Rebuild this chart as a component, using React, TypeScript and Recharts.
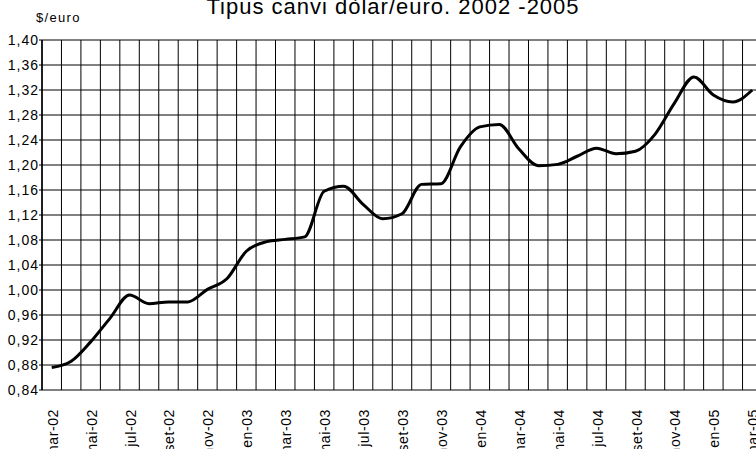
import { LineChart, Line, XAxis, YAxis, CartesianGrid } from 'recharts';

const months = [
  'mar-02', 'abr-02', 'mai-02', 'jun-02', 'jul-02', 'ago-02', 'set-02', 'oct-02', 'nov-02', 'des-02',
  'gen-03', 'feb-03', 'mar-03', 'abr-03', 'mai-03', 'jun-03', 'jul-03', 'ago-03', 'set-03', 'oct-03', 'nov-03', 'des-03',
  'gen-04', 'feb-04', 'mar-04', 'abr-04', 'mai-04', 'jun-04', 'jul-04', 'ago-04', 'set-04', 'oct-04', 'nov-04', 'des-04',
  'gen-05', 'feb-05', 'mar-05',
];

const rate = [
  0.876, 0.886, 0.917, 0.955, 0.992, 0.978, 0.981, 0.981, 1.001, 1.018,
  1.062, 1.077, 1.081, 1.085, 1.158, 1.166, 1.137, 1.114, 1.122, 1.169, 1.170, 1.229,
  1.261, 1.265, 1.226, 1.199, 1.201, 1.214, 1.227, 1.218, 1.222, 1.249, 1.299, 1.341,
  1.312, 1.301, 1.320,
];

const yTicks = [0.84, 0.88, 0.92, 0.96, 1.0, 1.04, 1.08, 1.12, 1.16, 1.2, 1.24, 1.28, 1.32, 1.36, 1.4];

const data = months.map((m, i) => ({ i, month: m, rate: rate[i] }));
// category boundaries -> vertical gridlines
const boundaries = [...months.map((_, k) => k - 0.5), months.length - 0.5];
// every second month gets a label
const labelTicks = months.map((_, k) => k).filter((k) => k % 2 === 0);

const FONT = '"Liberation Sans", Arial, sans-serif';

function YTick({ x, y, payload }: any) {
  return (
    <text x={x + 1} y={y} dy="0.36em" textAnchor="end" fontSize={14} fontFamily={FONT} fill="#000" letterSpacing={1}>
      {payload.value.toFixed(2).replace('.', ',')}
    </text>
  );
}

function XTick({ x, y, payload }: any) {
  return (
    <text
      transform={`translate(${x + 6},${y + 11}) rotate(-90)`}
      textAnchor="end"
      fontSize={14}
      fontFamily={FONT}
      fill="#000"
      letterSpacing={0.6}
    >
      {months[payload.value]}
    </text>
  );
}

export default function App() {
  return (
    <div style={{ position: 'absolute', left: 0, top: 0, width: 756, height: 449, overflow: 'hidden', background: '#fff' }}>
      <div
        style={{
          position: 'absolute', left: 393, top: -4, transform: 'translateX(-50%)', whiteSpace: 'nowrap',
          fontFamily: FONT, fontSize: 22, lineHeight: '22px', letterSpacing: 1, color: '#000',
        }}
      >
        Tipus canvi dòlar/euro. 2002 -2005
      </div>
      <div
        style={{
          position: 'absolute', left: 36, top: 11, fontFamily: FONT, fontSize: 13, lineHeight: '13px',
          letterSpacing: 1.3, color: '#000',
        }}
      >
        $/euro
      </div>
      <LineChart width={770} height={449} data={data} margin={{ top: 40, right: 8, bottom: 0, left: 0 }}>
        <CartesianGrid xAxisId="grid" stroke="#000" strokeWidth={1} />
        <XAxis
          xAxisId="grid"
          dataKey="i"
          type="number"
          domain={[-0.5, months.length - 0.5]}
          ticks={boundaries}
          height={0}
          tickFormatter={() => ''}
          tickSize={4}
          tickLine={{ stroke: '#000' }}
          axisLine={{ stroke: '#000', strokeWidth: 1.5 }}
          interval={0}
        />
        <XAxis
          xAxisId="lab"
          dataKey="i"
          type="number"
          domain={[-0.5, months.length - 0.5]}
          ticks={labelTicks}
          height={59}
          axisLine={false}
          tickLine={false}
          tick={<XTick />}
          interval={0}
        />
        <YAxis
          width={42}
          domain={[0.84, 1.4]}
          ticks={yTicks}
          interval={0}
          tickSize={3}
          tickMargin={1}
          tick={<YTick />}
          tickLine={{ stroke: '#000' }}
          axisLine={{ stroke: '#000', strokeWidth: 1.5 }}
        />
        <Line
          xAxisId="lab"
          type="monotone"
          dataKey="rate"
          stroke="#000"
          strokeWidth={3}
          dot={false}
          isAnimationActive={false}
        />
      </LineChart>
    </div>
  );
}
